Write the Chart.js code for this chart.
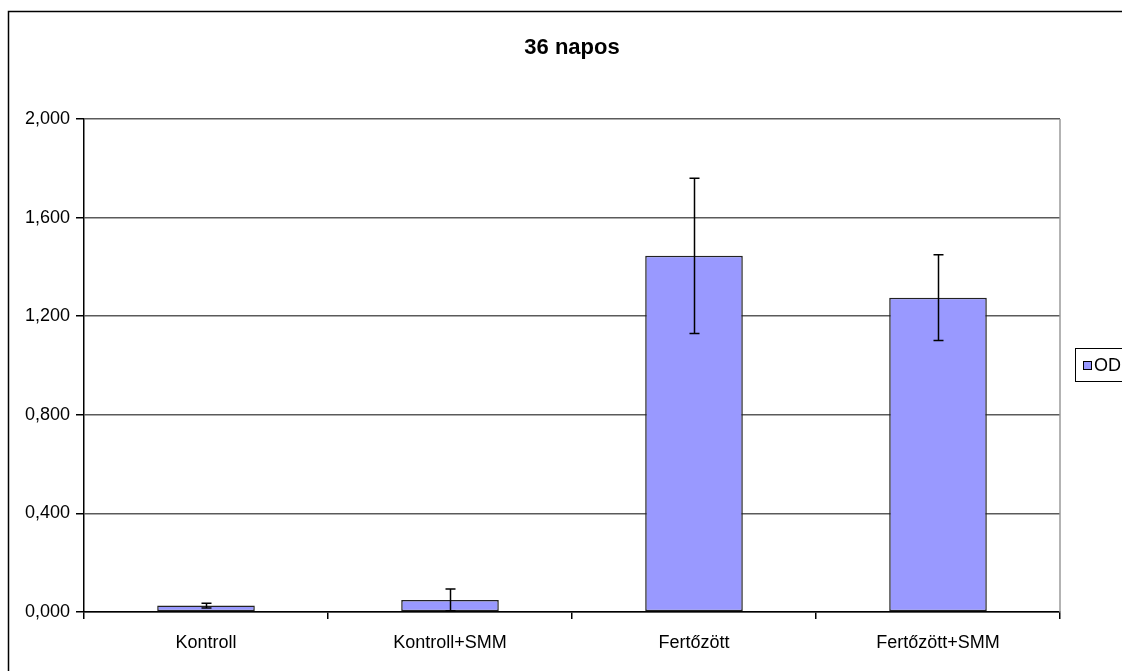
<!DOCTYPE html>
<html>
<head>
<meta charset="utf-8">
<script src="https://cdn.jsdelivr.net/npm/chart.js@4.4.1/dist/chart.umd.min.js"></script>
<style>
    html, body { margin: 0; padding: 0; background: #fff; }
    #wrap { width: 1122px; height: 671px; position: relative; }
</style>
</head>
<body>
<div id="wrap"><canvas id="odChart" width="1122" height="671"></canvas></div>
<script>
    // Chart data
    const categories = ['Kontroll', 'Kontroll+SMM', 'Fertőzött', 'Fertőzött+SMM'];
    const odValues = [0.026, 0.049, 1.445, 1.275];
    const odErrors = [0.010, 0.044, 0.315, 0.174];
    const yTicks = [0, 0.4, 0.8, 1.2, 1.6, 2.0];

    const COLORS = {
        bar: '#9999FF',
        barBorder: '#222222',
        grid: '#5a5a5a',
        frame: '#9a9a9a',
        text: '#000000'
    };

    Chart.defaults.font.family = '"Liberation Sans", Arial, sans-serif';
    Chart.defaults.color = COLORS.text;

    // Outer chart frame, right plot border and the clipped legend box
    const framePlugin = {
        id: 'frame',
        beforeDraw: function(chart) {
            const ctx = chart.ctx;
            ctx.save();
            ctx.fillStyle = '#fff';
            ctx.fillRect(0, 0, chart.width, chart.height);
            ctx.strokeStyle = '#000';
            ctx.lineWidth = 1.5;
            ctx.strokeRect(8.5, 11.5, chart.width + 20, chart.height + 20);
            ctx.restore();
        },
        afterDraw: function(chart) {
            const ctx = chart.ctx;
            const area = chart.chartArea;
            ctx.save();
            // right border of the plot area
            ctx.strokeStyle = COLORS.frame;
            ctx.lineWidth = 1.5;
            ctx.beginPath();
            ctx.moveTo(area.right, area.top);
            ctx.lineTo(area.right, area.bottom);
            ctx.stroke();

            // legend
            const ds = chart.data.datasets[0];
            ctx.strokeStyle = '#000';
            ctx.lineWidth = 1;
            ctx.strokeRect(1075.5, 348.5, 80, 33);
            ctx.fillStyle = ds.backgroundColor;
            ctx.fillRect(1083, 361, 8, 9);
            ctx.strokeRect(1083.5, 361.5, 8, 8);
            ctx.fillStyle = COLORS.text;
            ctx.font = '18px "Liberation Sans", Arial, sans-serif';
            ctx.textBaseline = 'middle';
            ctx.textAlign = 'left';
            ctx.fillText(ds.label, 1094, 366);
            ctx.restore();
        }
    };

    // Error bars drawn through the scales
    const errorBarPlugin = {
        id: 'errorBars',
        afterDatasetsDraw: function(chart) {
            const ctx = chart.ctx;
            const yScale = chart.scales.y;
            const meta = chart.getDatasetMeta(0);
            ctx.save();
            ctx.strokeStyle = '#000';
            ctx.lineWidth = 1.5;
            meta.data.forEach(function(bar, i) {
                const x = Math.round(bar.x) + 0.5;
                const top = yScale.getPixelForValue(odValues[i] + odErrors[i]);
                const bottom = yScale.getPixelForValue(odValues[i] - odErrors[i]);
                ctx.beginPath();
                ctx.moveTo(x, top);
                ctx.lineTo(x, bottom);
                ctx.moveTo(x - 5, top);
                ctx.lineTo(x + 5, top);
                ctx.moveTo(x - 5, bottom);
                ctx.lineTo(x + 5, bottom);
                ctx.stroke();
            });
            ctx.restore();
        }
    };

    new Chart(document.getElementById('odChart').getContext('2d'), {
        type: 'bar',
        data: {
            labels: categories,
            datasets: [{
                label: 'OD',
                data: odValues,
                backgroundColor: COLORS.bar,
                borderColor: COLORS.barBorder,
                borderWidth: 1.5,
                borderSkipped: false,
                categoryPercentage: 1,
                barPercentage: 0.4
            }]
        },
        options: {
            responsive: false,
            animation: false,
            devicePixelRatio: 1,
            layout: {
                padding: { left: 0, right: 62, top: 0, bottom: 0 }
            },
            plugins: {
                legend: { display: false },
                tooltip: { enabled: false },
                title: {
                    display: true,
                    fullSize: false,
                    text: '36 napos',
                    color: COLORS.text,
                    font: { size: 22, weight: 'bold' },
                    padding: { top: 35, bottom: 57.6 }
                }
            },
            scales: {
                x: {
                    afterFit: function(scale) { scale.height = 59; },
                    grid: {
                        display: true,
                        offset: true,
                        drawOnChartArea: false,
                        tickLength: 7,
                        tickColor: '#000',
                        lineWidth: 1.5
                    },
                    border: { color: '#000', width: 1.5 },
                    ticks: {
                        color: COLORS.text,
                        font: { size: 18 },
                        padding: 13,
                        maxRotation: 0
                    }
                },
                y: {
                    min: 0,
                    max: 2.0,
                    afterFit: function(scale) { scale.width = 84; },
                    afterBuildTicks: function(scale) {
                        scale.ticks = yTicks.map(function(v) { return { value: v }; });
                    },
                    grid: {
                        color: COLORS.grid,
                        lineWidth: 1.5,
                        tickLength: 8,
                        tickColor: '#000'
                    },
                    border: { color: '#000', width: 1.5 },
                    ticks: {
                        color: COLORS.text,
                        font: { size: 18 },
                        padding: 6,
                        callback: function(value) {
                            return value.toFixed(3).replace('.', ',');
                        }
                    }
                }
            }
        },
        plugins: [framePlugin, errorBarPlugin]
    });
</script>
</body>
</html>
